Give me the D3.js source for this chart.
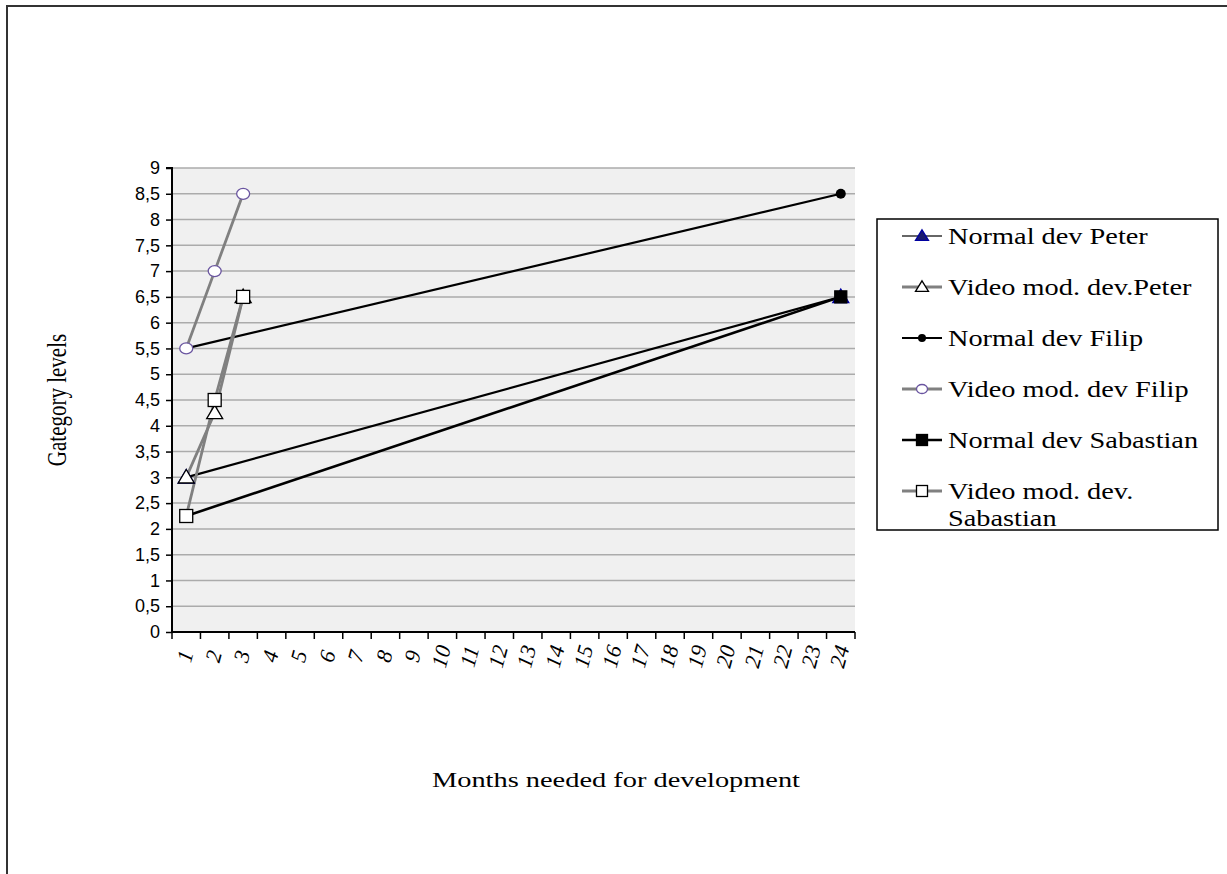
<!DOCTYPE html>
<html>
<head>
<meta charset="utf-8">
<script src="https://cdn.jsdelivr.net/npm/d3@7"></script>
<style>
  html, body { margin: 0; padding: 0; background: #fff; }
  svg { display: block; }
</style>
</head>
<body>
<svg id="chart" width="1227" height="874"></svg>
<script>
const categories = ["1","2","3","4","5","6","7","8","9","10","11","12","13","14","15","16","17","18","19","20","21","22","23","24"];
const yTicks = [0,0.5,1,1.5,2,2.5,3,3.5,4,4.5,5,5.5,6,6.5,7,7.5,8,8.5,9];
const seriesNames = ["Normal dev Peter","Video mod. dev.Peter","Normal dev Filip","Video mod. dev Filip","Normal dev Sabastian","Video mod. dev. Sabastian"];
const normalPeter     = [3, null,null,null,null,null,null,null,null,null,null,null,null,null,null,null,null,null,null,null,null,null,null,6.5];
const videoPeter      = [3, 4.25, 6.5, null,null,null,null,null,null,null,null,null,null,null,null,null,null,null,null,null,null,null,null,null];
const normalFilip     = [5.5, null,null,null,null,null,null,null,null,null,null,null,null,null,null,null,null,null,null,null,null,null,null,8.5];
const videoFilip      = [5.5, 7, 8.5, null,null,null,null,null,null,null,null,null,null,null,null,null,null,null,null,null,null,null,null,null];
const normalSabastian = [2.25, null,null,null,null,null,null,null,null,null,null,null,null,null,null,null,null,null,null,null,null,null,null,6.5];
const videoSabastian  = [2.25, 4.5, 6.5, null,null,null,null,null,null,null,null,null,null,null,null,null,null,null,null,null,null,null,null,null];

const svg = d3.select("#chart");
const X0 = 172, X1 = 855, Y0 = 632, Y1 = 168;
const SERIF = "Liberation Serif, Times New Roman, serif";

// outer frame
svg.append("rect").attr("x", 7).attr("y", 6).attr("width", 1260).attr("height", 900)
  .attr("fill", "#fff").attr("stroke", "#333").attr("stroke-width", 2);

const x = d3.scaleBand().domain(categories).range([X0, X1]).padding(0);
const y = d3.scaleLinear().domain([0, 9]).range([Y0, Y1]);
const cx = c => x(c) + x.bandwidth() / 2;

// plot background
svg.append("rect").attr("x", X0).attr("y", Y1).attr("width", X1 - X0).attr("height", Y0 - Y1).attr("fill", "#f0f0f0");

// gridlines
svg.append("g").selectAll("line").data(yTicks.filter(t => t > 0)).join("line")
  .attr("x1", X0).attr("x2", X1).attr("y1", d => y(d)).attr("y2", d => y(d))
  .attr("stroke", "#ababab").attr("stroke-width", 1.5);

// y axis
const yAxis = d3.axisLeft(y).tickValues(yTicks).tickSize(6).tickPadding(6)
  .tickFormat(d => String(d).replace(".", ","));
const gy = svg.append("g").attr("transform", `translate(${X0},0)`).call(yAxis);
gy.select(".domain").attr("stroke", "#000").attr("stroke-width", 2).attr("d", `M-6,${Y1}H0V${Y0}`);
gy.selectAll(".tick line").attr("stroke", "#000").attr("stroke-width", 1.5);
gy.selectAll(".tick text").attr("font-family", "Liberation Sans, Arial, sans-serif").attr("font-size", 18).attr("fill", "#000");

// x axis
const xAxis = d3.axisBottom(x).tickSize(0).tickFormat("");
const gx = svg.append("g").attr("transform", `translate(0,${Y0})`).call(xAxis);
gx.select(".domain").attr("stroke", "#000").attr("stroke-width", 2).attr("d", `M${X0},0H${X1}`);
const bounds = categories.map(c => x(c)).concat([X1]);
svg.append("g").selectAll("line").data(bounds).join("line")
  .attr("x1", d => d).attr("x2", d => d).attr("y1", Y0).attr("y2", Y0 + 7)
  .attr("stroke", "#000").attr("stroke-width", 1.5);
svg.append("g").selectAll("text").data(categories).join("text")
  .attr("transform", d => `translate(${cx(d) + 1},${Y0 + 25}) rotate(-75)`)
  .attr("text-anchor", "middle").attr("dominant-baseline", "middle")
  .attr("font-family", SERIF).attr("font-style", "italic")
  .attr("font-size", 22).attr("fill", "#000").text(d => d);

// axis titles
svg.append("text").attr("transform", `translate(60,400) scale(1.35,1) rotate(-90)`)
  .attr("text-anchor", "middle").attr("dominant-baseline", "middle")
  .attr("font-family", SERIF).attr("font-size", 21).attr("fill", "#000")
  .text("Gategory levels");
svg.append("text").attr("x", 432).attr("y", 787)
  .attr("textLength", 368).attr("lengthAdjust", "spacingAndGlyphs")
  .attr("font-family", SERIF).attr("font-size", 20).attr("fill", "#000")
  .text("Months needed for development");

// series definitions
const seriesData = [normalPeter, videoPeter, normalFilip, videoFilip, normalSabastian, videoSabastian];
const styles = [
  {line: "#000", lw: 2.2, legendLine: "#666", marker: "tri", fill: "#1a1a6e", stroke: "#0000a0", size: 14},
  {line: "#808080", lw: 2.8, legendLine: "#808080", marker: "tri", fill: "#fff", stroke: "#000", size: 14},
  {line: "#000", lw: 2.2, legendLine: "#000", marker: "dot", fill: "#000", stroke: "#000", size: 5},
  {line: "#808080", lw: 2.8, legendLine: "#808080", marker: "circle", fill: "#fff", stroke: "#6a55a0", size: 6},
  {line: "#000", lw: 2.6, legendLine: "#000", marker: "sq", fill: "#000", stroke: "#000", size: 12},
  {line: "#808080", lw: 2.8, legendLine: "#808080", marker: "sq", fill: "#fff", stroke: "#000", size: 13}
];

function drawMarker(g, type, px, py, st) {
  if (type === "tri") {
    const s = st.size;
    const h = s * 0.9;
    g.append("path").attr("d", `M${px},${py - h * 0.62}L${px + s / 2 + 1},${py + h * 0.45}L${px - s / 2 - 1},${py + h * 0.45}Z`)
      .attr("fill", st.fill).attr("stroke", st.stroke).attr("stroke-width", 1.3);
  } else if (type === "dot") {
    g.append("circle").attr("cx", px).attr("cy", py).attr("r", st.size).attr("fill", st.fill);
  } else if (type === "circle") {
    g.append("ellipse").attr("cx", px).attr("cy", py).attr("rx", st.size + 0.5).attr("ry", st.size - 0.5)
      .attr("fill", st.fill).attr("stroke", st.stroke).attr("stroke-width", 1.3);
  } else if (type === "sq") {
    const s = st.size;
    g.append("rect").attr("x", px - s / 2).attr("y", py - s / 2).attr("width", s).attr("height", s)
      .attr("fill", st.fill).attr("stroke", st.stroke).attr("stroke-width", 1.3);
  }
}

const lineGen = d3.line().x(d => cx(d.c)).y(d => y(d.v));
const drawOrder = [0, 2, 4, 1, 3, 5];
const linesG = svg.append("g");
const markersG = svg.append("g");
drawOrder.forEach(i => {
  const pts = seriesData[i].map((v, k) => ({c: categories[k], v})).filter(d => d.v !== null);
  linesG.append("path").datum(pts).attr("d", lineGen).attr("fill", "none")
    .attr("stroke", styles[i].line).attr("stroke-width", styles[i].lw);
});
drawOrder.forEach(i => {
  const pts = seriesData[i].map((v, k) => ({c: categories[k], v})).filter(d => d.v !== null);
  pts.forEach(p => drawMarker(markersG, styles[i].marker, cx(p.c), y(p.v), styles[i]));
});

// legend
const LX = 877, LY = 219, LW = 341, LH = 311;
svg.append("rect").attr("x", LX).attr("y", LY).attr("width", LW).attr("height", LH)
  .attr("fill", "#fff").attr("stroke", "#000").attr("stroke-width", 1.5);
const rowY = [236, 287, 338, 389, 440, 491];
const legendLabels = [["Normal dev Peter"],["Video mod. dev.Peter"],["Normal dev Filip"],["Video mod. dev Filip"],["Normal dev Sabastian"],["Video mod. dev.","Sabastian"]];
const lg = svg.append("g");
seriesNames.forEach((name, i) => {
  const ry = rowY[i];
  lg.append("line").attr("x1", 902).attr("x2", 942).attr("y1", ry).attr("y2", ry)
    .attr("stroke", styles[i].legendLine).attr("stroke-width", styles[i].lw);
  const st = Object.assign({}, styles[i]);
  if (st.marker === "dot") st.size = 4;
  else if (st.marker === "circle") st.size = 5;
  else st.size = 11;
  drawMarker(lg, st.marker, 922, ry, st);
  legendLabels[i].forEach((t, j) => {
    const tx = lg.append("text").attr("x", 948).attr("y", ry + 8 + j * 27)
      .attr("font-family", SERIF).attr("font-size", 24).attr("fill", "#000")
      .text(t);
    const len = tx.node().getComputedTextLength();
    tx.attr("textLength", len * 1.18).attr("lengthAdjust", "spacingAndGlyphs");
  });
});
</script>
</body>
</html>
